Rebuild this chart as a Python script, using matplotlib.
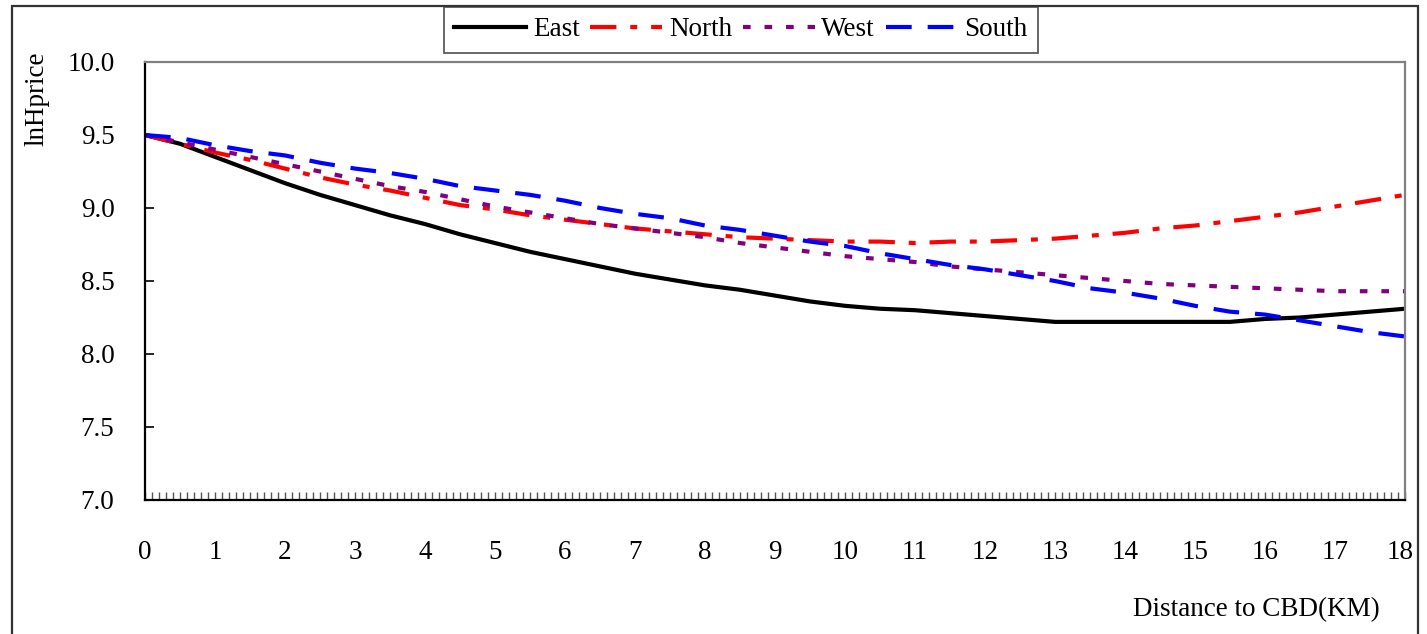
import matplotlib
matplotlib.use("Agg")
import matplotlib.pyplot as plt
from matplotlib.patches import Rectangle
from matplotlib.ticker import MultipleLocator
from matplotlib.transforms import ScaledTranslation

distance = [0, 0.5, 1, 1.5, 2, 2.5, 3, 3.5, 4, 4.5, 5, 5.5, 6, 6.5, 7, 7.5, 8, 8.5, 9,
            9.5, 10, 10.5, 11, 11.5, 12, 12.5, 13, 13.5, 14, 14.5, 15, 15.5, 16, 16.5,
            17, 17.5, 18]

east = [9.50, 9.44, 9.35, 9.26, 9.17, 9.09, 9.02, 8.95, 8.89, 8.82, 8.76, 8.70, 8.65,
        8.60, 8.55, 8.51, 8.47, 8.44, 8.40, 8.36, 8.33, 8.31, 8.30, 8.28, 8.26, 8.24,
        8.22, 8.22, 8.22, 8.22, 8.22, 8.22, 8.24, 8.25, 8.27, 8.29, 8.31]
north = [9.50, 9.44, 9.38, 9.33, 9.27, 9.21, 9.16, 9.12, 9.07, 9.02, 8.99, 8.95, 8.92,
         8.89, 8.86, 8.84, 8.82, 8.80, 8.79, 8.78, 8.77, 8.77, 8.76, 8.77, 8.77, 8.78,
         8.79, 8.81, 8.83, 8.86, 8.88, 8.91, 8.94, 8.97, 9.01, 9.05, 9.09]
west = [9.50, 9.45, 9.40, 9.35, 9.30, 9.25, 9.20, 9.15, 9.11, 9.06, 9.01, 8.97, 8.93,
        8.89, 8.86, 8.83, 8.80, 8.76, 8.73, 8.70, 8.67, 8.65, 8.63, 8.60, 8.58, 8.56,
        8.54, 8.52, 8.50, 8.48, 8.47, 8.46, 8.45, 8.44, 8.43, 8.43, 8.43]
south = [9.50, 9.48, 9.43, 9.39, 9.36, 9.31, 9.27, 9.24, 9.20, 9.15, 9.12, 9.09, 9.05,
         9.00, 8.96, 8.93, 8.88, 8.85, 8.81, 8.77, 8.74, 8.69, 8.65, 8.61, 8.58, 8.54,
         8.50, 8.45, 8.42, 8.38, 8.33, 8.29, 8.27, 8.23, 8.19, 8.15, 8.12]

series_names = ["East", "North", "West", "South"]
x_tick_labels = [str(i) for i in range(0, 19)]
y_ticks = [7.0, 7.5, 8.0, 8.5, 9.0, 9.5, 10.0]

plt.rcParams['font.family'] = ['Liberation Serif', 'DejaVu Serif']
plt.rcParams['lines.scale_dashes'] = False

FS = 19.5
W, H = 1427, 634
fig = plt.figure(figsize=(W / 100, H / 100), dpi=100)
fig.patch.set_facecolor('white')

# outer chart border
fig.patches.append(Rectangle((12 / W, -0.05), (1418 - 12) / W, 1 - 5.5 / H + 0.05,
                             transform=fig.transFigure, fill=False,
                             edgecolor='#333333', linewidth=1.6, zorder=0))

ax = fig.add_axes([145 / W, 1 - 500 / H, (1405 - 145) / W, (500 - 62) / H])

lw = 3.0
ax.plot(distance, east, color='black', lw=lw, label=series_names[0], solid_joinstyle='round')
ax.plot(distance, north, color='#FF0000', lw=lw, dashes=(19, 10, 5, 10), label=series_names[1])
ax.plot(distance, west, color='#800080', lw=lw, dashes=(5.5, 10), label=series_names[2])
ax.plot(distance, south, color='#0000FF', lw=lw, dashes=(18.5, 11.5), label=series_names[3])

ax.set_xlim(0, 18)
ax.set_ylim(7.0, 10.0)
ax.set_xticks(range(0, 19))
ax.set_xticklabels(x_tick_labels)
ax.xaxis.set_minor_locator(MultipleLocator(0.1))
ax.set_yticks(y_ticks)
ax.set_yticklabels([f"{v:.1f}" for v in y_ticks])

ax.tick_params(axis='x', which='major', direction='in', length=6, width=1.0,
               color='#555555', pad=29, labelsize=FS)
ax.tick_params(axis='x', which='minor', direction='in', length=6, width=1.0,
               color='#555555')
ax.tick_params(axis='y', which='major', direction='in', length=6.5, width=1.2,
               color='black', pad=22, labelsize=FS)

last_tick = ax.xaxis.get_major_ticks()[-1]
last_tick.label1.set_transform(last_tick.label1.get_transform() +
                               ScaledTranslation(-5 / 100, 0, fig.dpi_scale_trans))

for side in ['left', 'bottom']:
    ax.spines[side].set_color('black')
    ax.spines[side].set_linewidth(1.6)
for side in ['top', 'right']:
    ax.spines[side].set_color('#808080')
    ax.spines[side].set_linewidth(1.6)

fig.text(37 / W, 1 - 99 / H, "lnHprice", rotation=90, ha='center', va='center', fontsize=FS)
fig.text(1380 / W, 1 - 610 / H, "Distance to CBD(KM)", ha='right', va='center', fontsize=FS)

leg = fig.legend(loc='center', bbox_to_anchor=(741 / W, 1 - 30 / H), ncol=4,
                 fontsize=FS, frameon=True, fancybox=False, shadow=False,
                 handlelength=2.65, handletextpad=0.25, columnspacing=0.4,
                 borderpad=0.38, borderaxespad=0)
leg.get_frame().set_edgecolor('#333333')
leg.get_frame().set_linewidth(1.3)

fig.savefig("out.png", dpi=100)
